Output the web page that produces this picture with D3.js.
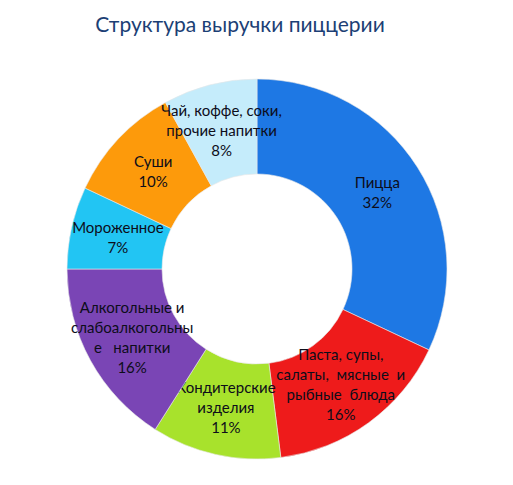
<!DOCTYPE html>
<html>
<head>
<meta charset="utf-8">
<script src="https://cdn.jsdelivr.net/npm/d3@7"></script>
<style>
  body { margin: 0; background: #fff; }
  svg text { font-family: Lato, "Open Sans", sans-serif; }
</style>
</head>
<body>
<figure style="margin:0"></figure>
<script>
// chart data
const categories = ["Пицца", "Паста, супы, салаты, мясные и рыбные блюда", "Кондитерские изделия",
  "Алкогольные и слабоалкогольные напитки", "Мороженное", "Суши", "Чай, коффе, соки, прочие напитки"];
const shares = [32, 16, 11, 16, 7, 10, 8];
// label lines as wrapped on the picture
const labelLines = [
  ["Пицца"],
  ["Паста, супы,", "салаты,  мясные  и", "рыбные  блюда"],
  ["Кондитерские", "изделия"],
  ["Алкогольные и", "слабоалкогольны", "е   напитки"],
  ["Мороженное"],
  ["Суши"],
  ["Чай, коффе, соки,", "прочие напитки"]
];
const colors = ["#1e78e4", "#ee1b1b", "#a8e22c", "#7a45b5", "#22c5f3", "#fd9a0b", "#c5ecfb"];

const width = 513, height = 485;
const cx = 257, cy = 269, rOut = 190, rIn = 95;

const svg = d3.select("figure")
  .append("svg")
  .attr("width", width)
  .attr("height", height);

svg.append("text")
  .attr("x", 240)
  .attr("y", 32)
  .attr("text-anchor", "middle")
  .attr("fill", "#1c3f75")
  .style("font-size", "21px")
  .text("Структура выручки пиццерии");

const data = categories.map((c, i) => ({ name: c, value: shares[i], lines: labelLines[i], color: colors[i] }));

const pie = d3.pie().sort(null).value(d => d.value);
const arc = d3.arc().innerRadius(rIn).outerRadius(rOut);

const g = svg.append("g").attr("transform", "translate(" + cx + "," + cy + ")");

const slices = g.selectAll("g.slice")
  .data(pie(data))
  .enter()
  .append("g")
  .attr("class", "slice");

slices.append("path")
  .attr("d", arc)
  .attr("fill", d => d.data.color)
  .attr("stroke", "#e8e8e8")
  .attr("stroke-width", 0.6);

const lineH = 20;
slices.append("text")
  .attr("transform", d => "translate(" + arc.centroid(d) + ")")
  .attr("text-anchor", "middle")
  .attr("fill", "#0d0d1a")
  .style("font-size", "15px")
  .each(function(d) {
    const lines = d.data.lines.concat([d.data.value + "%"]);
    const start = -((lines.length - 1) * lineH) / 2;
    const t = d3.select(this);
    lines.forEach((l, i) => {
      t.append("tspan")
        .attr("x", 0)
        .attr("y", start + i * lineH)
        .attr("dy", "0.35em")
        .style("white-space", "pre")
        .text(l);
    });
  });
</script>
</body>
</html>
